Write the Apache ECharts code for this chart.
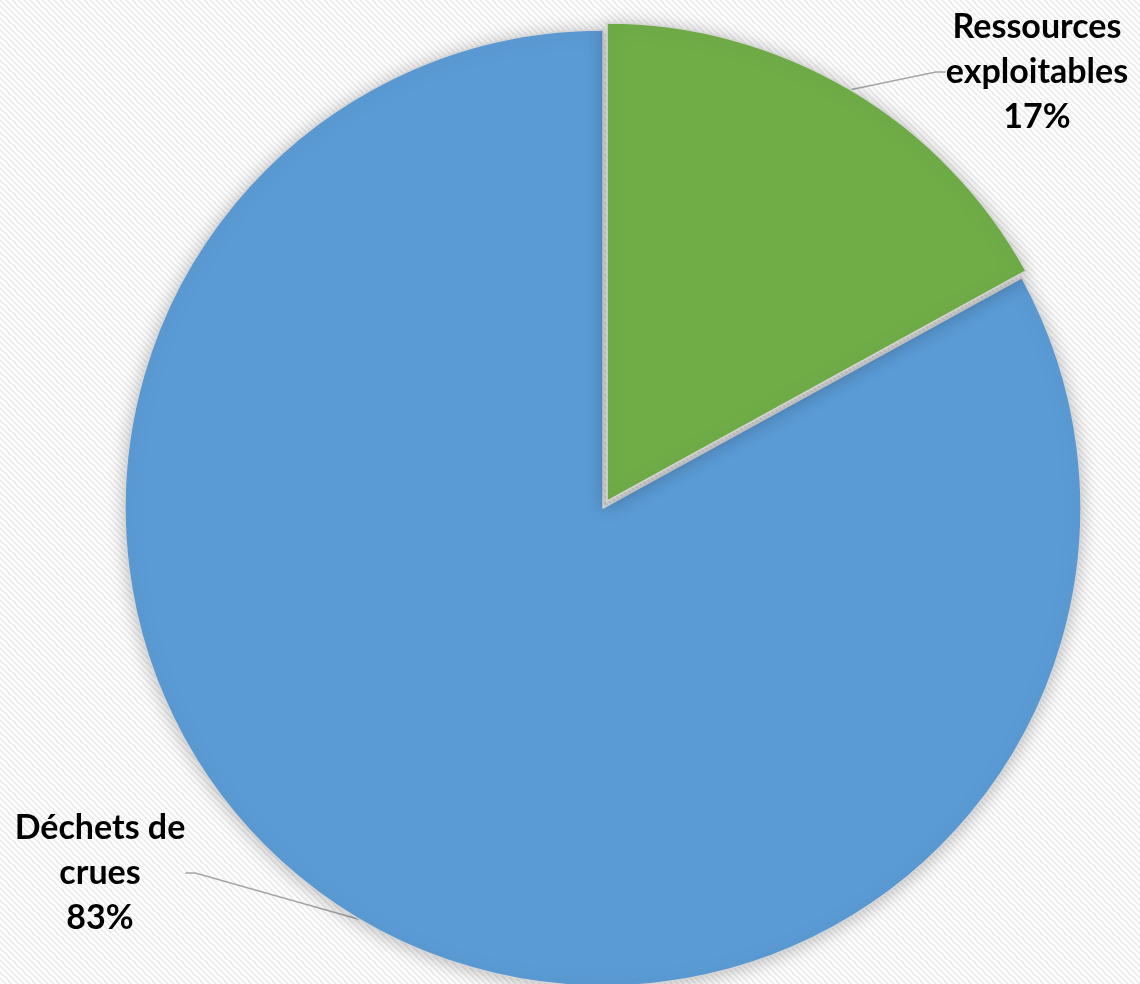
<!DOCTYPE html>
<html lang="fr">
<head>
    <meta charset="UTF-8">
    <style>
        html, body { margin: 0; padding: 0; }
        #chart { width: 1140px; height: 984px; }
    </style>
    <script src="https://cdn.jsdelivr.net/npm/echarts@6/dist/echarts.min.js"></script>
</head>
<body>
    <div id="chart"></div>
    <script>
        // données du graphique
        var categories = ['Ressources\nexploitables', 'Déchets de\ncrues'];
        var values = [17, 83];
        var colors = ['#70AD47', '#5B9BD5'];

        // fond hachuré (diagonales claires)
        var tile = document.createElement('canvas');
        tile.width = 6;
        tile.height = 6;
        var ctx = tile.getContext('2d');
        ctx.fillStyle = '#ffffff';
        ctx.fillRect(0, 0, 6, 6);
        ctx.strokeStyle = '#ebebeb';
        ctx.lineWidth = 1.6;
        ctx.beginPath();
        ctx.moveTo(-1, -1); ctx.lineTo(7, 7);
        ctx.moveTo(-1, 5); ctx.lineTo(1, 7);
        ctx.moveTo(5, -1); ctx.lineTo(7, 1);
        ctx.stroke();

        // positions des étiquettes (centre du bloc de texte)
        var labelPos = [
            { x: 1037, y: 72 },
            { x: 100, y: 873 }
        ];

        var center = [603, 508];
        var radius = 478;
        // part "Ressources" détachée de 8 px le long de sa bissectrice
        var total = values[0] + values[1];
        var midAngle = values[0] / total * Math.PI;
        var offCenter = [center[0] + 8 * Math.sin(midAngle), center[1] - 8 * Math.cos(midAngle)];

        function makeSeries(visibleIndex, c) {
            return {
                type: 'pie',
                center: c,
                radius: radius,
                startAngle: 90,
                clockwise: true,
                percentPrecision: 0,
                silent: true,
                label: {
                    show: true,
                    position: 'outside',
                    alignTo: 'none',
                    formatter: function (p) {
                        var lines = p.name.split('\n').concat([p.percent + '%']);
                        return lines.map(function (l) { return '{c|' + l + '}'; }).join('\n');
                    },
                    rich: {
                        c: {
                            align: 'center',
                            fontFamily: 'Lato',
                            fontWeight: 'bold',
                            fontSize: 34,
                            lineHeight: 45,
                            color: '#000000'
                        }
                    }
                },
                labelLine: {
                    show: true,
                    length: 10,
                    length2: 10,
                    lineStyle: { color: '#a6a6a6', width: 1.5 }
                },
                labelLayout: function (params) {
                    var p = labelPos[params.dataIndex];
                    var w = params.labelRect.width;
                    var x = p.x;
                    if (params.align === 'left') x = p.x - w / 2;
                    if (params.align === 'right') x = p.x + w / 2;
                    return { x: x, y: p.y };
                },
                data: categories.map(function (name, i) {
                    var shown = i === visibleIndex;
                    return {
                        name: name,
                        value: values[i],
                        itemStyle: shown ? {
                            color: colors[i],
                            borderColor: '#d6d6d6',
                            borderWidth: 1.5,
                            shadowBlur: 18,
                            shadowColor: 'rgba(0,0,0,0.25)',
                            shadowOffsetY: 2
                        } : { color: 'rgba(0,0,0,0)', borderWidth: 0 },
                        label: { show: shown },
                        labelLine: { show: shown }
                    };
                })
            };
        }

        var chart = echarts.init(document.getElementById('chart'));

        var option = {
            backgroundColor: { image: tile, repeat: 'repeat' },
            animation: false,
            series: [
                makeSeries(1, center),
                makeSeries(0, offCenter)
            ]
        };

        chart.setOption(option);
    </script>
</body>
</html>
